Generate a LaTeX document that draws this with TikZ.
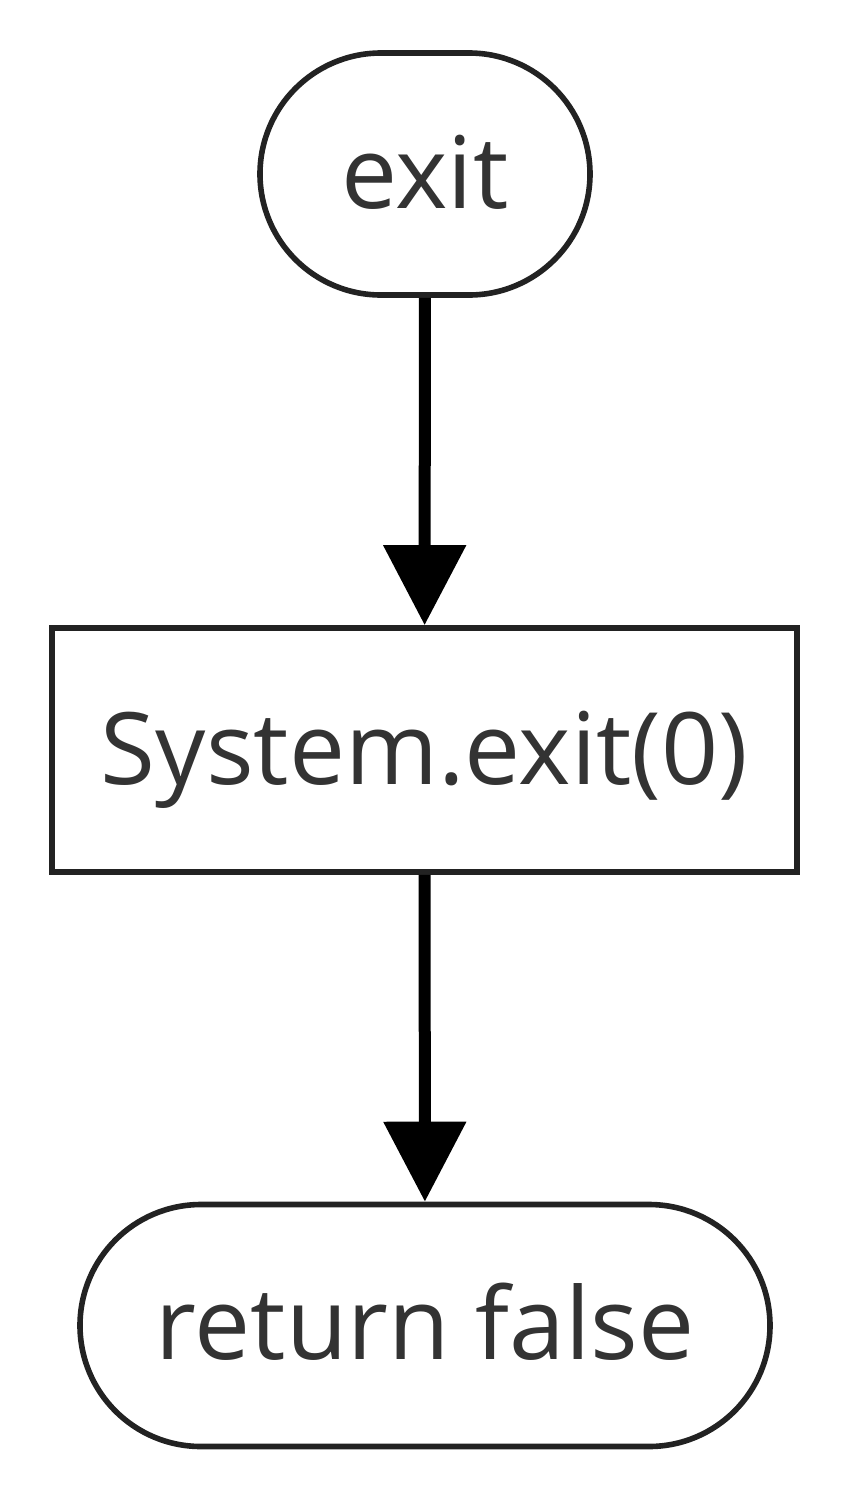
\documentclass[tikz,border=0pt]{standalone}
\usepackage{fontspec}
\setmainfont{Open Sans}
\usetikzlibrary{arrows.meta}
\definecolor{txt}{HTML}{333333}
\definecolor{ln}{HTML}{222222}
\begin{document}
\begin{tikzpicture}[x=0.5pt,y=-0.5pt,
  base/.style={draw=ln,line width=2.8pt,text=txt,font=\fontsize{50}{58}\selectfont,inner sep=0pt,text depth=0pt,text height=34pt},
  term/.style={base,rounded corners=60.5pt,minimum height=121pt},
  proc/.style={base,minimum height=122pt},
  flow/.style={draw=black,line width=6pt,-{Triangle[length=40pt,width=40pt]}}]
\useasboundingbox (0,0) rectangle (850,1500);
\node[term,minimum width=165pt] (exit) at (425,174) {exit};
\node[proc,minimum width=372.5pt] (sys) at (424.5,750) {System.exit(0)};
\node[term,minimum width=345pt] (ret) at (425,1325.5) {return false};
\draw[flow] (exit) -- (sys);
\draw[flow] (sys) -- (ret);
\end{tikzpicture}
\end{document}
